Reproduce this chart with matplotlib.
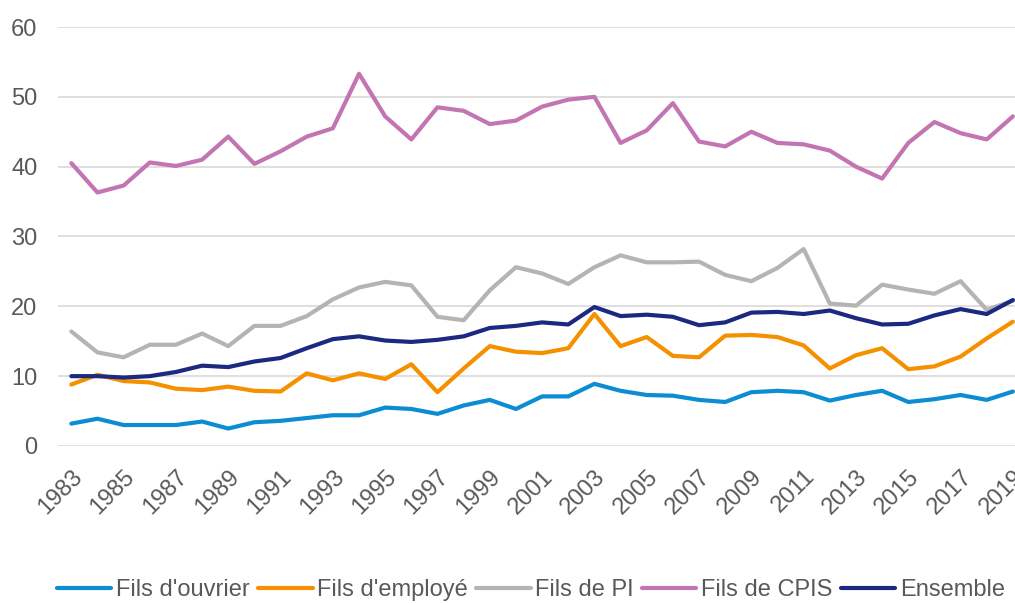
import matplotlib.pyplot as plt

plt.rcParams['font.family'] = ['Liberation Sans', 'DejaVu Sans']

years = list(range(1983, 2020))

ouvrier = [3.2, 3.9, 3.0, 3.0, 3.0, 3.5, 2.5, 3.4, 3.6, 4.0,
           4.4, 4.4, 5.5, 5.3, 4.6, 5.8, 6.6, 5.3, 7.1, 7.1,
           8.9, 7.9, 7.3, 7.2, 6.6, 6.3, 7.7, 7.9, 7.7, 6.5,
           7.3, 7.9, 6.3, 6.7, 7.3, 6.6, 7.8]
employe = [8.8, 10.2, 9.3, 9.1, 8.2, 8.0, 8.5, 7.9, 7.8, 10.4,
           9.4, 10.4, 9.6, 11.7, 7.7, 11.1, 14.3, 13.5, 13.3, 14.0,
           18.9, 14.3, 15.6, 12.9, 12.7, 15.8, 15.9, 15.6, 14.4, 11.1,
           13.0, 14.0, 11.0, 11.4, 12.8, 15.4, 17.8]
pi = [16.4, 13.4, 12.7, 14.5, 14.5, 16.1, 14.3, 17.2, 17.2, 18.6,
      21.0, 22.7, 23.5, 23.0, 18.5, 18.0, 22.3, 25.6, 24.7, 23.2,
      25.6, 27.3, 26.3, 26.3, 26.4, 24.5, 23.6, 25.5, 28.2, 20.4,
      20.1, 23.1, 22.4, 21.8, 23.6, 19.5, 20.8]
cpis = [40.5, 36.3, 37.3, 40.6, 40.1, 41.0, 44.3, 40.4, 42.2, 44.3,
        45.5, 53.3, 47.2, 43.9, 48.5, 48.0, 46.1, 46.6, 48.6, 49.6,
        50.0, 43.4, 45.2, 49.1, 43.6, 42.9, 45.0, 43.4, 43.2, 42.3,
        40.0, 38.3, 43.4, 46.4, 44.8, 43.9, 47.2]
ensemble = [10.0, 10.0, 9.8, 10.0, 10.6, 11.5, 11.3, 12.1, 12.6, 14.0,
            15.3, 15.7, 15.1, 14.9, 15.2, 15.7, 16.9, 17.2, 17.7, 17.4,
            19.9, 18.6, 18.8, 18.5, 17.3, 17.7, 19.1, 19.2, 18.9, 19.4,
            18.3, 17.4, 17.5, 18.7, 19.6, 18.9, 20.9]

series = [
    ("Fils d'ouvrier", ouvrier, '#0C8DD3'),
    ("Fils d'employé", employe, '#F59100'),
    ("Fils de PI", pi, '#B4B4B4'),
    ("Fils de CPIS", cpis, '#C375B3'),
    ("Ensemble", ensemble, '#1B2A80'),
]

text_color = '#595959'

fig = plt.figure(figsize=(10.15, 6.03), dpi=100)
ax = fig.add_axes([0.0574, 0.2604, 0.9534, 0.6948])

for label, values, color in series:
    ax.plot(years, values, color=color, linewidth=3.0, label=label,
            solid_capstyle='round', solid_joinstyle='round')

ax.set_xlim(1982.5, 2019.5)
ax.set_ylim(0, 60)
ax.set_yticks(range(0, 61, 10))
ax.set_xticks(years[::2])
ax.grid(axis='y', color='#D9D9D9', linewidth=1.2)
ax.set_axisbelow(True)
for spine in ax.spines.values():
    spine.set_visible(False)

ax.tick_params(axis='y', length=0, pad=15, labelsize=17, labelcolor=text_color)
ax.tick_params(axis='x', length=0, pad=14, labelsize=17, labelcolor=text_color)
plt.setp(ax.get_xticklabels(), rotation=45, ha='right', rotation_mode='anchor')

ax.legend(loc='center', bbox_to_anchor=(531 / 1015, 13 / 603),
          bbox_transform=fig.transFigure, ncol=5, frameon=False,
          fontsize=17, labelcolor=text_color, handlelength=2.3,
          handletextpad=0.2, columnspacing=0.35, borderaxespad=0)

fig.savefig('out.png', dpi=100)
